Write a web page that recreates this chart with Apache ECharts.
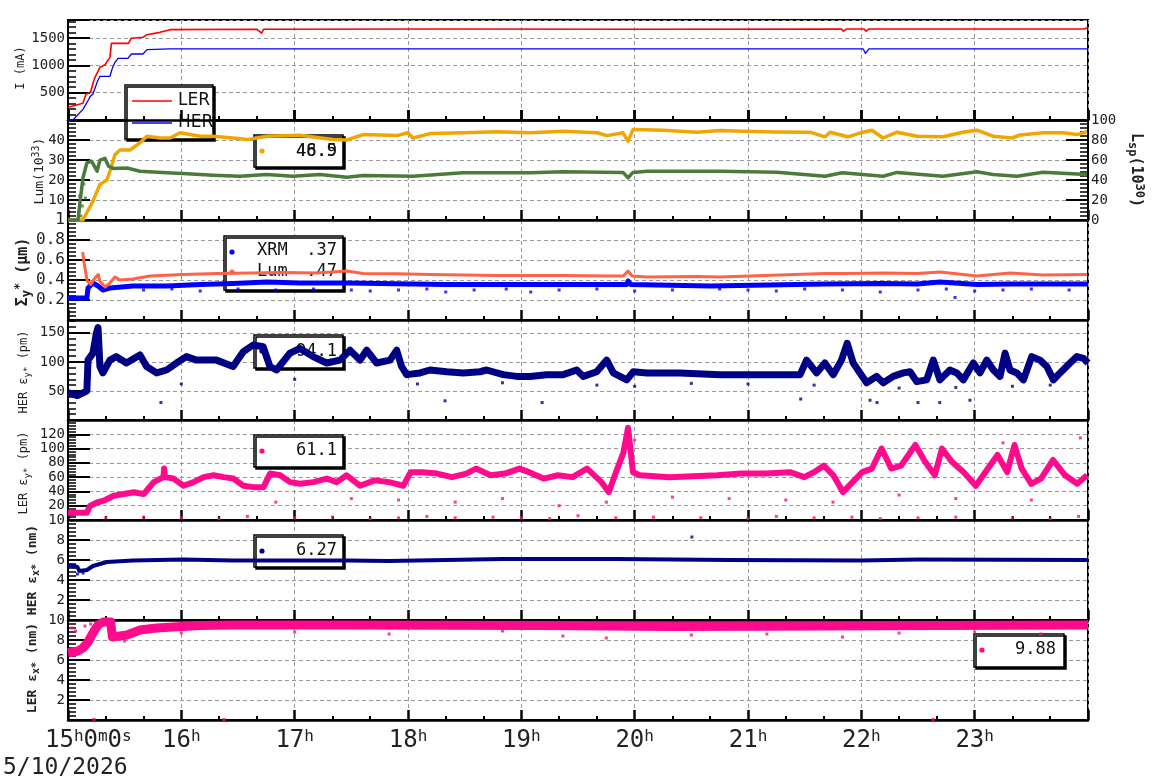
<!DOCTYPE html>
<html><head><meta charset="utf-8">
<script src="https://cdn.jsdelivr.net/npm/echarts@6/dist/echarts.min.js"></script>
<style>html,body{margin:0;padding:0;background:#fff}#c{width:1160px;height:782px}</style>
</head><body><div id="c"></div>
<script>
// x values: minutes after 15:00 on 5/10/2026
const dateLabel = '5/10/2026';
const firstTickLabel = ['15','h','0','m','0','s'];
const hourStart = 15;

// Panel 1: beam current (mA)
const curLER = [[0,232],[4,270],[7.9,305],[9.5,470],[11.9,507],[13.5,700],[14.3,781],[16.9,964],[19.6,1012],[22.2,1147],[23,1403],[32,1403],[33.4,1495],[39.7,1513],[41.8,1561],[48.7,1604],[54,1653],[100,1660],[102.5,1590],[103.5,1660],[200,1665],[300,1662],[409.5,1665],[410.5,1625],[412,1665],[421.5,1665],[422.5,1625],[424,1665],[538,1665],[540,1696]];
const curHER = [[0,0],[2.6,0],[8,200],[9,232],[11,380],[11.6,427],[13.2,476],[14.5,600],[15.4,690],[16.9,800],[22.2,800],[23.5,950],[24.9,1055],[26.5,1129],[31.7,1129],[33.6,1208],[39.7,1208],[41.8,1287],[54,1300],[421,1300],[422.2,1220],[424,1300],[540,1300]];

// Panel 2: luminosity (10^33)
const lumOrange = [[0,0],[7.9,0],[13.2,9.4],[16.9,17.8],[20.6,20],[22.2,24.4],[24.9,32.7],[27.5,35],[32.8,35],[38.1,38.6],[41.8,41.9],[48.7,41],[54,41],[59.3,43.6],[69.9,41.9],[76.8,41.9],[87.4,41],[94.8,40.2],[105.3,41.9],[122.8,42.4],[140.3,40.2],[147.7,40],[156.2,42.7],[174.2,42.2],[180,43.6],[182.6,41],[191.6,43.2],[209.1,43.6],[227.1,44.1],[244.6,43.6],[262.1,44.4],[280.1,43.6],[285.4,42.2],[293.8,43.6],[296.5,39.4],[299.1,45.2],[315,44.9],[333,43.9],[345.2,44.7],[357.3,44.4],[375.3,44],[392.8,43.9],[400.8,41.6],[403.4,43.9],[412.9,41.6],[420.9,43.9],[425.6,44.9],[431.5,41],[438.9,43.9],[449.5,41.9],[463.2,41.6],[473.8,43.9],[481.2,44.9],[489.7,41.9],[499.8,41],[504,42.5],[516.2,43.6],[526.8,43.6],[534.2,42.7],[539.5,44.1]];
const lumGreen = [[0,0],[5.3,0],[6.5,10],[7.9,21],[10,28.6],[12.5,29.4],[15.4,24.4],[16.9,29.9],[19.6,30.8],[21.5,26.9],[23.9,25.8],[31.2,26],[38.1,24.4],[52.4,23.6],[63,23.1],[76.8,22.4],[91.1,21.9],[105.3,22.8],[119.1,21.9],[133.4,22.8],[147.7,21.4],[156.2,22.3],[182.6,21.9],[209.1,23.6],[244.6,23.6],[262.1,24.1],[293.8,23.8],[296.5,21.1],[299.1,23.8],[306.6,24.4],[345.2,24.4],[375.3,23.9],[400.8,21.9],[409.8,23.6],[431.5,21.9],[438.9,23.8],[463.2,21.9],[481.2,24.1],[489.7,22.8],[502.4,21.9],[516.2,23.9],[539.5,22.8]];
const lumGreenNoise = [[5.8,4],[6.2,12],[6.8,2],[7.2,15],[7.6,7],[8.4,18],[9.2,11]];

// Panel 3: Sigma_y* (um)
const sigXRM = [[0,0.22],[10,0.22],[10.6,0.32],[13.2,0.37],[15.9,0.34],[18.5,0.30],[22.2,0.32],[34.4,0.34],[52.4,0.34],[69.9,0.355],[87.4,0.365],[105.3,0.38],[122.8,0.37],[147.7,0.37],[200,0.355],[262,0.355],[295.9,0.355],[296.5,0.39],[298,0.355],[339.9,0.34],[400.8,0.36],[431.5,0.365],[449.5,0.36],[461.6,0.38],[481.2,0.355],[498.7,0.36],[539.5,0.36]];
const sigXRMOut = [[40,0.30],[55,0.31],[70,0.29],[90,0.31],[110,0.30],[130,0.31],[150,0.30],[160,0.29],[175,0.30],[190,0.31],[200,0.28],[215,0.30],[232,0.31],[245,0.28],[260,0.30],[280,0.31],[300,0.29],[320,0.30],[345,0.31],[360,0.30],[375,0.29],[390,0.31],[410,0.30],[430,0.28],[450,0.30],[465,0.31],[469.6,0.225],[480,0.29],[495,0.30],[510,0.31],[530,0.30]];
const sigLum = [[7.8,0.68],[8.5,0.57],[10.2,0.39],[12,0.355],[14.3,0.42],[16,0.455],[16.9,0.39],[19.6,0.33],[22.2,0.37],[24.9,0.43],[27.5,0.40],[34.4,0.41],[43.4,0.44],[60.9,0.455],[78.9,0.465],[96.4,0.47],[113.8,0.475],[131.8,0.47],[147.7,0.49],[156.2,0.465],[174.2,0.463],[191.6,0.455],[227.1,0.445],[262.1,0.445],[285.4,0.44],[294,0.44],[296.5,0.49],[298.6,0.44],[306.6,0.43],[333,0.435],[345.2,0.43],[400.8,0.465],[412.4,0.465],[431.5,0.47],[449.5,0.465],[461.6,0.48],[481.2,0.44],[498.7,0.47],[516.2,0.45],[539.5,0.455]];

// Panel 4: HER eps_y* (pm)
const herEy = [[0,47],[5,42],[10,50],[10.6,103],[13.2,115],[15,149],[15.9,159],[16.9,92],[18.5,81],[22.2,103],[25.6,109],[30.9,98],[38.1,112],[41.6,92],[46.9,81],[52.2,86],[57.4,98],[62.7,109],[68,103],[73.3,103],[78.6,103],[87.4,92],[92.7,117],[98,129],[103.3,126],[106.9,92],[110.4,86],[117.5,115],[122.8,123],[129.8,109],[136.9,98],[144,103],[149.3,120],[154.6,103],[158.1,120],[163.4,98],[170.5,103],[174,120],[176.6,92],[179.3,78],[186.4,81],[191.6,86],[200.5,83],[209.3,81],[218.1,83],[221.6,86],[230.4,78],[237.5,75],[244.6,75],[253.4,78],[262.2,78],[269.3,86],[272.8,75],[279.9,83],[285.2,103],[288.7,81],[295.8,69],[299.3,83],[306.4,81],[324,81],[345.2,78],[365,78],[387.6,78],[391,103],[396.3,81],[400.7,98],[405.1,78],[409.5,103],[412.5,132],[415.7,98],[419.3,81],[422.8,64],[428.1,75],[431.6,64],[436.9,75],[442.2,81],[445.8,83],[449.3,66],[454.6,69],[458.1,103],[461.6,69],[466.9,86],[470.5,81],[474,69],[479.3,98],[482.8,81],[486.4,103],[489.9,86],[493.4,75],[496.1,115],[498.7,86],[502.3,81],[505.8,69],[510.2,109],[514.6,103],[518.2,92],[521.7,69],[525.2,81],[530.5,98],[534.1,109],[537.6,106],[540,98]];
const herEyOut = [[49.2,30],[199.6,33],[251,30],[387.9,36],[424.6,34],[428.3,30],[450,30],[461.5,30],[477.5,34],[60,62],[120,70],[185,62],[230,64],[280,60],[300,58],[330,63],[360,62],[395,60],[440,55],[470,56],[500,58],[520,60]];

// Panel 5: LER eps_y* (pm)
const lerEy = [[0,10],[10,10],[11.6,19.7],[15.4,24.5],[18.9,27],[24.2,34],[29.5,36.4],[34.8,38.9],[40.1,36.4],[45.4,53],[50.5,60],[50.9,72],[51.3,60],[55.9,58],[61.2,48],[66.5,53],[71.8,60],[77.1,62.6],[82.4,60],[87.6,58],[92.9,48],[98.2,46],[103.5,46],[107,65],[112.3,62.6],[117.6,53],[122.8,50.7],[129.9,53],[137,58],[142.3,53],[147.5,62.6],[154.6,48],[162.3,55.5],[170,53],[177.6,48],[181.4,67],[187.8,67],[195.5,65],[203.2,60],[210.9,65],[216,72],[223.7,62.6],[231.4,65],[239,72],[244.1,67],[251.8,58],[259.4,62.6],[267.1,60],[274.8,72],[282.5,53],[286.3,39],[290.1,67],[294,94],[296.5,129],[299.1,67],[302.8,62.6],[318.2,60],[343.8,62.6],[356.6,65],[369.4,65],[382.2,67],[389.8,60],[394.9,67],[400.1,76],[405.2,62.6],[410.3,39],[415.4,53],[420.5,67],[425.6,72],[430.7,100],[435.9,72],[441,76],[448.6,105],[453.7,82],[458.9,62.6],[462.7,100],[467.8,82],[474.2,67],[480.6,48],[487,72],[492.1,91],[497.2,67],[501.1,105],[504.9,72],[510,50.7],[515.1,58],[521.5,84],[527.9,62.6],[534.3,50.7],[539.5,62.6]];
const lerEyOut = [[20,3],[40,4],[60,3],[80,2],[95,5],[120,3],[140,4],[160,2],[175,3],[190,5],[205,3],[225,4],[240,3],[255,2],[270,6],[290,3],[310,4],[335,3],[360,2],[375,5],[395,3],[415,4],[430,2],[450,3],[470,4],[500,3],[520,2],[535,5],[110,25],[150,30],[175,28],[205,25],[230,30],[260,20],[285,25],[320,32],[350,30],[380,28],[405,25],[440,35],[470,30],[510,28],[495,108],[536,115],[300,112]];

// Panel 6: HER eps_x* (nm)
const herEx = [[0,5.5],[5,5.3],[6,4.9],[10,5.0],[13.2,5.4],[20.6,5.8],[34.4,5.95],[60.9,6.05],[87.4,5.95],[105.3,5.95],[147.7,5.95],[170,5.9],[230,6.1],[290,6.1],[350,6.0],[420,5.95],[450,6.05],[540,6.0]];
const herExOut = [[330.3,8.3],[5,4.6],[8,4.7]];

// Panel 7: LER eps_x* (nm)
const lerEx = [[0,6.7],[5.3,6.9],[7.9,7.2],[10.6,7.8],[13.2,8.7],[15.9,9.5],[18.5,9.8],[22.6,9.8],[23.5,8.3],[31.2,8.5],[38.1,9.0],[46.9,9.2],[55.6,9.3],[69.9,9.45],[87.4,9.5],[147.7,9.5],[250,9.45],[320,9.35],[400,9.4],[460,9.45],[540,9.5]];
const lerExOut = [[13.7,0.05],[82.6,0.05],[458,0.05],[2,9.2],[4,8.9],[9,9.4],[12,9.6],[30,7.9],[60,8.7],[120,8.8],[170,8.6],[230,8.9],[262,8.4],[285,8.2],[330,8.5],[370,8.6],[410,8.3],[440,8.7],[480,8.8],[515,8.6]];

// Legend values
const legLum = ['48.9','46.5'];
const legSigma = [['XRM','.37'],['Lum','.47']];
const legHerEy = '94.1', legLerEy = '61.1', legHerEx = '6.27', legLerEx = '9.88';

const MONO = '"DejaVu Sans Mono", monospace';
const SANS = '"DejaVu Sans", sans-serif';
const GRID_TOP = [20,120,220,320,420,520,620];
const C = {red:'#ff0000', blue:'#0000ff', orange:'#f0a500', green:'#4b7b3b', tomato:'#ff6347', navy:'#000085', pink:'#ff0a8c'};
const DASH = {color:'#9a9a9a', width:1, type:[4,3]};

const grids = GRID_TOP.map(t => ({left:68, right:72, top:t, height:100, show:true, borderColor:'#000', borderWidth:2, backgroundColor:'rgba(0,0,0,0)', outerBoundsMode:'none', containLabel:false}));

const xRich = {
  n:{fontSize:24, fontFamily:MONO, color:'#222', lineHeight:24, verticalAlign:'bottom'},
  s:{fontSize:16, fontFamily:MONO, color:'#222', lineHeight:10, verticalAlign:'top'}
};
function xAx(gi, labels, extra) {
  return Object.assign({
    type:'value', gridIndex:gi, position:'bottom', min:0, max:540, interval:60,
    axisLine:{show:true, onZero:false, lineStyle:{color:'#000', width:2.5}},
    axisTick:{show:true, inside:true, length:10, lineStyle:{color:'#000', width:2.5}},
    minorTick:{show:true, splitNumber:3, length:4, lineStyle:{color:'#000', width:2}},
    splitLine:{show:true, lineStyle:DASH},
    axisLabel:{show:labels, margin:9, formatter: v => (v<=0||v>=540) ? '' : '{n|'+(hourStart+v/60)+'}{s|h}', rich:xRich}
  }, extra||{});
}
function yAx(gi, min, max, interval, fmt, extra) {
  return Object.assign({
    type:'value', gridIndex:gi, position:'left', min, max, interval,
    axisLine:{show:true, onZero:false, lineStyle:{color:'#000', width:2}},
    axisTick:{show:true, inside:true, length:22, lineStyle:{color:'#000', width:2}},
    minorTick:{show:true, splitNumber:5, length:8, lineStyle:{color:'#000', width:1.5}},
    splitLine:{show:true, lineStyle:DASH},
    axisLabel:{show:true, margin:3, fontFamily:MONO, fontSize:14, color:'#222', formatter:fmt, showMinLabel:true, showMaxLabel:true}
  }, extra||{});
}
const xAxes = [0,1,2,3,4,5,6].map(i => xAx(i, i===6));
xAxes.push(xAx(0, false, {z:3, splitLine:{show:false}}));

const yAxes = [
  yAx(0, 0, 1830, 500, v => (v>0 && v%500===0) ? String(v) : ''),
  yAx(1, 0, 50, 10, v => (v>0 && v<50) ? String(v) : ''),
  yAx(1, 0, 100, 20, v => String(v), {position:'right', splitLine:{show:false}}),
  yAx(2, 0, 1, 0.2, null, {axisLabel:{show:true, margin:3, fontFamily:MONO, fontSize:16, color:'#222', formatter: v => v<=0 ? '' : (v>=1 ? '1' : String(Math.round(v*10)/10))}}),
  yAx(3, 0, 172, 50, v => (v>0 && v%50===0) ? String(v) : ''),
  yAx(4, 0, 140, 20, v => (v>0 && v<140 && v%20===0) ? String(v) : ''),
  yAx(5, 0, 10, 2, v => v>0 ? String(v) : ''),
  yAx(6, 0, 10, 2, v => v>0 ? String(v) : '')
];

function line(xi, yi, data, color, width) {
  return {type:'line', xAxisIndex:xi, yAxisIndex:yi, data, showSymbol:false, symbol:'none', silent:true, animation:false, clip:true,
    lineStyle:{color, width, join:'round', cap:'butt'}, itemStyle:{color}};
}
function dots(xi, yi, data, color, size) {
  return {type:'scatter', xAxisIndex:xi, yAxisIndex:yi, data, symbol:'rect', symbolSize:size||3, silent:true, animation:false, itemStyle:{color}};
}
const series = [
  line(0,0,curLER,C.red,1.6),
  line(0,0,curHER,C.blue,1.3),
  line(1,1,lumOrange,C.orange,3.5),
  line(1,1,lumGreen,C.green,3.5),
  dots(1,1,lumGreenNoise,C.green,3),
  line(2,3,sigXRM,C.blue,5),
  dots(2,3,sigXRMOut,C.blue,3),
  line(2,3,sigLum,C.tomato,3),
  dots(3,4,herEyOut,C.navy,3),
  line(3,4,herEy,C.navy,7),
  dots(4,5,lerEyOut,C.pink,3),
  line(4,5,lerEy,C.pink,6),
  line(5,6,herEx,C.navy,4),
  dots(5,6,herExOut,C.navy,3),
  line(6,7,lerEx,C.pink,9),
  dots(6,7,lerExOut,C.pink,3)
];

// ---- graphic: legends, axis titles, date ----
const BOX = {fill:'#fff', stroke:'#000', lineWidth:1.5, shadowColor:'#000', shadowOffsetX:2, shadowOffsetY:2, shadowBlur:0};
function box(x,y,w,h){ return {type:'rect', z:1, shape:{x,y,width:w,height:h}, style:Object.assign({},BOX)}; }
function dot(cx,cy,color){ return {type:'circle', z:1, shape:{cx,cy,r:2.6}, style:{fill:color}}; }
function txt(x,y,text,align,size,font){ return {type:'text', z:1, x, y, style:{text, fill:'#111', fontSize:size||17, fontFamily:font||MONO, align:align||'right', verticalAlign:'middle'}}; }
function title(x,y,text,size,bold,rot){
  const fw = bold ? 'bold' : 'normal';
  const lh = size + 4;
  return {type:'text', z:5, x, y, rotation: rot===undefined ? Math.PI/2 : rot,
    style:{text, fill:'#222', fontSize:size, fontFamily:MONO, fontWeight:fw, align:'center', verticalAlign:'middle',
      rich:{
        b:{fontSize:size, fontFamily:MONO, fontWeight:fw, fill:'#222', lineHeight:lh},
        sub:{fontSize:Math.round(size*0.78), fontFamily:MONO, fontWeight:fw, fill:'#222', lineHeight:Math.round(lh*0.6), verticalAlign:'bottom'},
        sup:{fontSize:Math.round(size*0.78), fontFamily:MONO, fontWeight:fw, fill:'#222', lineHeight:Math.round(lh*0.6), verticalAlign:'top'}
      }}};
}
const graphics = [
  // panel 1 legend
  box(125,85,88,54),
  {type:'line', z:1, shape:{x1:132,y1:101,x2:172,y2:101}, style:{stroke:C.red, lineWidth:1.3}},
  txt(178,101,'LER','left',17,SANS),
  {type:'line', z:1, shape:{x1:132,y1:123,x2:172,y2:123}, style:{stroke:C.blue, lineWidth:1.3}},
  txt(178,123,'HER','left',17,SANS),
  // panel 2 legend
  box(254,135,89,32), dot(262,151,C.orange), txt(337,152,legLum[0]), txt(337,152,legLum[1]),
  // panel 3 legend
  box(224,236,119,54), dot(232,252,C.blue), txt(257,251,legSigma[0][0],'left'), txt(337,251,legSigma[0][1]),
  dot(232,272,C.tomato), txt(257,272,legSigma[1][0],'left'), txt(337,272,legSigma[1][1]),
  // panel 4-7 legends
  box(254,335,89,33), dot(262,351,C.navy), txt(337,352,legHerEy),
  box(254,435,89,32), dot(262,451,C.pink), txt(337,451,legLerEy),
  box(254,535,89,32), dot(262,551,C.navy), txt(337,551,legHerEx),
  box(974,634,90,33), dot(982,650,C.pink), txt(1056,650,legLerEx),
  // axis titles
  title(21,68,'{b|I (mA)}',12,false),
  title(40,171,'{b|Lum(10}{sup|33}{b|)}',13,false),
  title(23,272,'{b|Σ}{sub|y}{sup|*}{b| (μm)}',15,true),
  title(24,372,'{b|HER ε}{sub|y*}{b| (pm)}',12,false),
  title(24,473,'{b|LER ε}{sub|y*}{b| (pm)}',12,false),
  title(33,570,'{b|HER ε}{sub|x*}{b| (nm)}',13,true),
  title(33,668,'{b|LER ε}{sub|x*}{b| (nm)}',13,true),
  title(1136,170,'{b|L}{sub|sp}{b|(10}{sup|30}{b|)}',15,true,-Math.PI/2),
  // first time label and date
  {type:'text', z:5, x:45, y:729, style:{text:'{n|'+firstTickLabel[0]+'}{s|'+firstTickLabel[1]+'}{n|'+firstTickLabel[2]+'}{s|'+firstTickLabel[3]+'}{n|'+firstTickLabel[4]+'}{s|'+firstTickLabel[5]+'}',
    align:'left', verticalAlign:'top', fill:'#222', rich:{n:{fontSize:24,fontFamily:MONO,fill:'#222',lineHeight:24,verticalAlign:'bottom'}, s:{fontSize:16,fontFamily:MONO,fill:'#222',lineHeight:10,verticalAlign:'top'}}}},
  {type:'text', z:5, x:3, y:768, style:{text:dateLabel, fontSize:23, fontFamily:MONO, fill:'#222', align:'left', verticalAlign:'middle'}}
];

const chart = echarts.init(document.getElementById('c'), null, {renderer:'canvas'});
chart.setOption({
  animation:false,
  backgroundColor:'#fff',
  grid:grids, xAxis:xAxes, yAxis:yAxes, series, graphic:graphics
});
</script></body></html>
